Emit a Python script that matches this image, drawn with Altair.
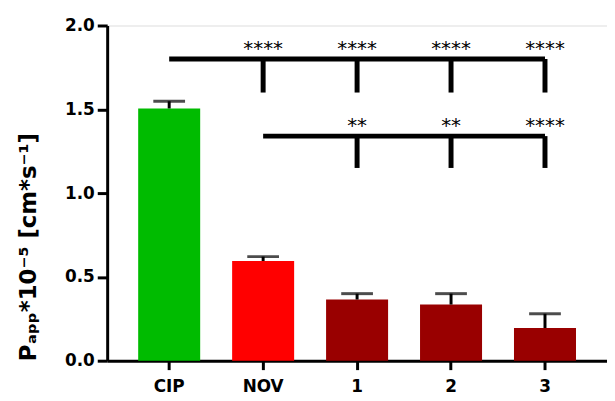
import altair as alt
import pandas as pd

categories = ["CIP", "NOV", "1", "2", "3"]
means = [1.505, 0.595, 0.365, 0.335, 0.195]
upper = [1.548, 0.621, 0.400, 0.400, 0.280]
colors = ["#00BB00", "#FF0000", "#990000", "#990000", "#990000"]

# significance brackets
top_y, top_drop = 1.80, 1.60
top_targets = ["NOV", "1", "2", "3"]
top_labels = ["****", "****", "****", "****"]
low_y, low_drop = 1.34, 1.15
low_targets = ["1", "2", "3"]
low_labels = ["**", "**", "****"]

bars = pd.DataFrame({"cat": categories, "mean": means, "upper": upper, "color": colors})

xscale = alt.Scale(domain=categories, paddingInner=0.34, paddingOuter=0.33)
yscale = alt.Scale(domain=[0, 2], nice=False)

xenc = alt.X("cat:N", scale=xscale, title=None,
             axis=alt.Axis(labelAngle=0, labelPadding=9, tickSize=9))
yenc = alt.Y("mean:Q", scale=yscale,
             title="Pₐₚₚ*10⁻⁵ [cm*s⁻¹]",
             axis=alt.Axis(values=[0, 0.5, 1.0, 1.5, 2.0], format=".1f",
                           labelPadding=3, tickSize=10, grid=False,
                           titleFont="DejaVu Sans", titleFontSize=23,
                           titleFontWeight="bold", titleColor="black",
                           titleX=-79, titleBaseline="middle",
                           titleAnchor="start", titleAlign="left",
                           titleAngle=270))

bar = alt.Chart(bars).mark_bar().encode(
    x=xenc, y=yenc, color=alt.Color("color:N", scale=None))

err = alt.Chart(bars).mark_rule(color="black", strokeWidth=3).encode(
    x=alt.X("cat:N", scale=xscale), y=alt.Y("mean:Q", scale=yscale), y2="upper:Q")

cap = alt.Chart(bars).mark_tick(color="black", thickness=3, size=32).encode(
    x=alt.X("cat:N", scale=xscale), y=alt.Y("upper:Q", scale=yscale))

hlines = pd.DataFrame({
    "x1": ["CIP", "NOV"], "x2": [top_targets[-1], low_targets[-1]], "y": [top_y, low_y]})
hl = alt.Chart(hlines).mark_rule(color="black", strokeWidth=5).encode(
    x=alt.X("x1:N", scale=xscale), x2="x2:N", y=alt.Y("y:Q", scale=yscale))

drops = pd.DataFrame({
    "cat": top_targets + low_targets,
    "y1": [top_y] * len(top_targets) + [low_y] * len(low_targets),
    "y2": [top_drop] * len(top_targets) + [low_drop] * len(low_targets)})
dr = alt.Chart(drops).mark_rule(color="black", strokeWidth=5).encode(
    x=alt.X("cat:N", scale=xscale), y=alt.Y("y1:Q", scale=yscale), y2="y2:Q")

stars = pd.DataFrame({
    "cat": top_targets + low_targets,
    "label": top_labels + low_labels,
    "y": [1.875] * len(top_targets) + [1.415] * len(low_targets)})
st = alt.Chart(stars).mark_text(font="DejaVu Sans", fontSize=20, color="black",
                                baseline="middle", dy=3).encode(
    x=alt.X("cat:N", scale=xscale), y=alt.Y("y:Q", scale=yscale), text="label:N")

chart = alt.layer(bar, err, cap, hl, dr, st).properties(
    width=504, height=338,
    autosize=alt.AutoSizeParams(type="none"),
    padding={"left": 100, "top": 16, "right": 0, "bottom": 39},
).configure_view(stroke=None).configure(background="white").configure_axis(
    labelFont="DejaVu Sans", labelFontSize=17, labelFontWeight="bold",
    labelColor="black", tickWidth=3, tickColor="black",
    domainWidth=3, domainColor="black", grid=False)

chart.save("out.html", embed_options={"renderer": "svg", "actions": False})
